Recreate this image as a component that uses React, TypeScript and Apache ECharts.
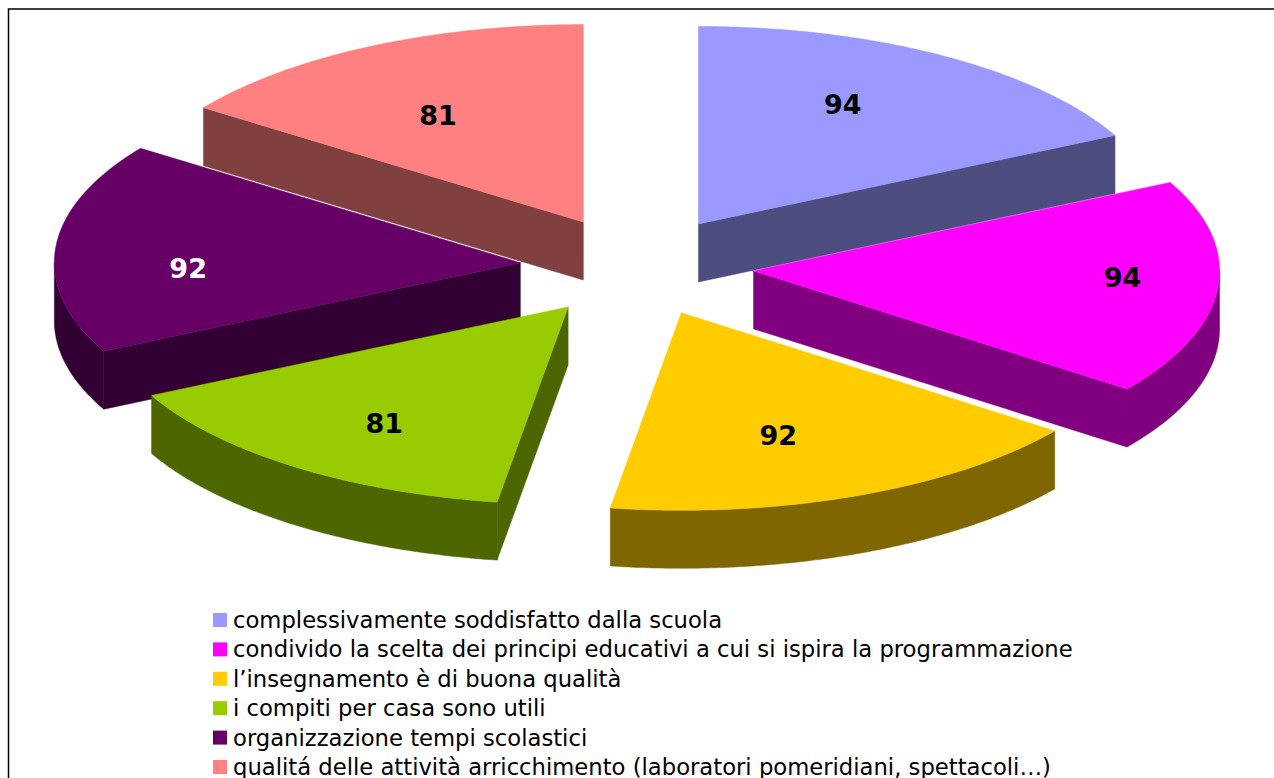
import React, { useEffect, useRef } from "react";
import * as echarts from "echarts";

const categories = [
  "complessivamente soddisfatto dalla scuola",
  "condivido la scelta dei principi educativi a cui si ispira la programmazione",
  "l’insegnamento è di buona qualità",
  "i compiti per casa sono utili",
  "organizzazione tempi scolastici",
  "qualitá delle attività arricchimento (laboratori pomeridiani, spettacoli…)",
];
const values = [94, 94, 92, 81, 92, 81];
const topColors = ["#9999FF", "#FF00FF", "#FFCC00", "#99CC00", "#660066", "#FF8080"];
const wallColors = ["#4D4D80", "#800080", "#806600", "#4D6600", "#330033", "#804040"];
const labelColors = ["#000000", "#000000", "#000000", "#000000", "#FFFFFF", "#000000"];
const labelFractionX = [0.59, 0.795, 0.55, 0.67, 0.715, 0.68];
const labelFractionY = [0.71, 0.4, 0.67, 0.73, -0.4, 0.61];
const paintOrder = [1, 2, 6, 4, 3, 5];

const CX = 637;
const CY = 266.5;
const RX = 466;
const RY = 197.5;
const EXPLODE_X = 117;
const EXPLODE_Y = 50;
const DEPTH = 58;

const total = values.reduce((a, b) => a + b, 0);
const rad = (i: number) => (values.slice(0, i).reduce((a, b) => a + b, 0) / total) * Math.PI * 2;

function renderSlice(index: number) {
  const a = rad(index);
  const b = rad(index + 1);
  const mid = (a + b) / 2;
  const ax = CX + EXPLODE_X * Math.sin(mid);
  const ay = CY - EXPLODE_Y * Math.cos(mid);
  const pt = (t: number, dy = 0): number[] => [ax + RX * Math.sin(t), ay - RY * Math.cos(t) + dy];
  const arc = (from: number, to: number, dy = 0) => {
    const n = Math.max(2, Math.ceil(Math.abs(to - from) / 0.01));
    const out: number[][] = [];
    for (let k = 0; k <= n; k++) out.push(pt(from + ((to - from) * k) / n, dy));
    return out;
  };
  const wall = (points: number[][]) => ({
    type: "polygon",
    shape: { points },
    style: { fill: wallColors[index], stroke: wallColors[index], lineWidth: 0.5 },
    silent: true,
  });
  const children: any[] = [];
  // outer wall: only the part of the arc that faces the viewer
  const lo = Math.max(a, Math.PI / 2);
  const hi = Math.min(b, (Math.PI * 3) / 2);
  if (hi > lo) children.push(wall([...arc(lo, hi), ...arc(hi, lo, DEPTH)]));
  // radial walls
  if (Math.sin(a) < -1e-6) {
    const p = pt(a);
    children.push(wall([[ax, ay], p, [p[0], p[1] + DEPTH], [ax, ay + DEPTH]]));
  }
  if (Math.sin(b) > 1e-6) {
    const p = pt(b);
    children.push(wall([[ax, ay], p, [p[0], p[1] + DEPTH], [ax, ay + DEPTH]]));
  }
  children.push({
    type: "polygon",
    shape: { points: [[ax, ay], ...arc(a, b)] },
    style: { fill: topColors[index], stroke: topColors[index], lineWidth: 0.5 },
    silent: true,
  });
  children.push({
    type: "text",
    x: ax + RX * Math.sin(mid) * labelFractionX[index],
    y: ay - RY * Math.cos(mid) * labelFractionY[index],
    style: {
      text: String(values[index]),
      fill: labelColors[index],
      font: 'bold 27px "DejaVu Sans"',
      textAlign: "center",
      textVerticalAlign: "middle",
    },
    silent: true,
  });
  return { type: "group", children };
}

export default function App() {
  const ref = useRef<HTMLDivElement>(null);
  useEffect(() => {
    document.body.style.margin = "0";
    document.body.style.overflow = "hidden";
    const chart = echarts.init(ref.current!, undefined, { renderer: "svg" });
    chart.setOption({
      animation: false,
      backgroundColor: "#FFFFFF",
      legend: {
        data: categories,
        orient: "vertical",
        left: 213,
        top: 607,
        height: 400,
        itemWidth: 14,
        itemHeight: 14,
        itemGap: 3.4,
        icon: "rect",
        selectedMode: false,
        padding: 0,
        textStyle: {
          fontFamily: "DejaVu Sans",
          fontSize: 22.7,
          color: "#000000",
          lineHeight: 26,
          padding: [0, 0, 0, 1],
        },
      },
      graphic: [
        {
          type: "polyline",
          silent: true,
          shape: { points: [[8.5, 778], [8.5, 9], [1274, 9]] },
          style: { stroke: "#000000", lineWidth: 1.5, fill: "none" },
        },
      ],
      series: categories.map((name, i) => ({
        type: "custom",
        name,
        coordinateSystem: "none",
        z: paintOrder[i],
        itemStyle: { color: topColors[i] },
        data: [values[i]],
        renderItem: () => renderSlice(i),
      })),
    });
    return () => chart.dispose();
  }, []);
  return <div ref={ref} style={{ width: 1274, height: 778 }} />;
}
